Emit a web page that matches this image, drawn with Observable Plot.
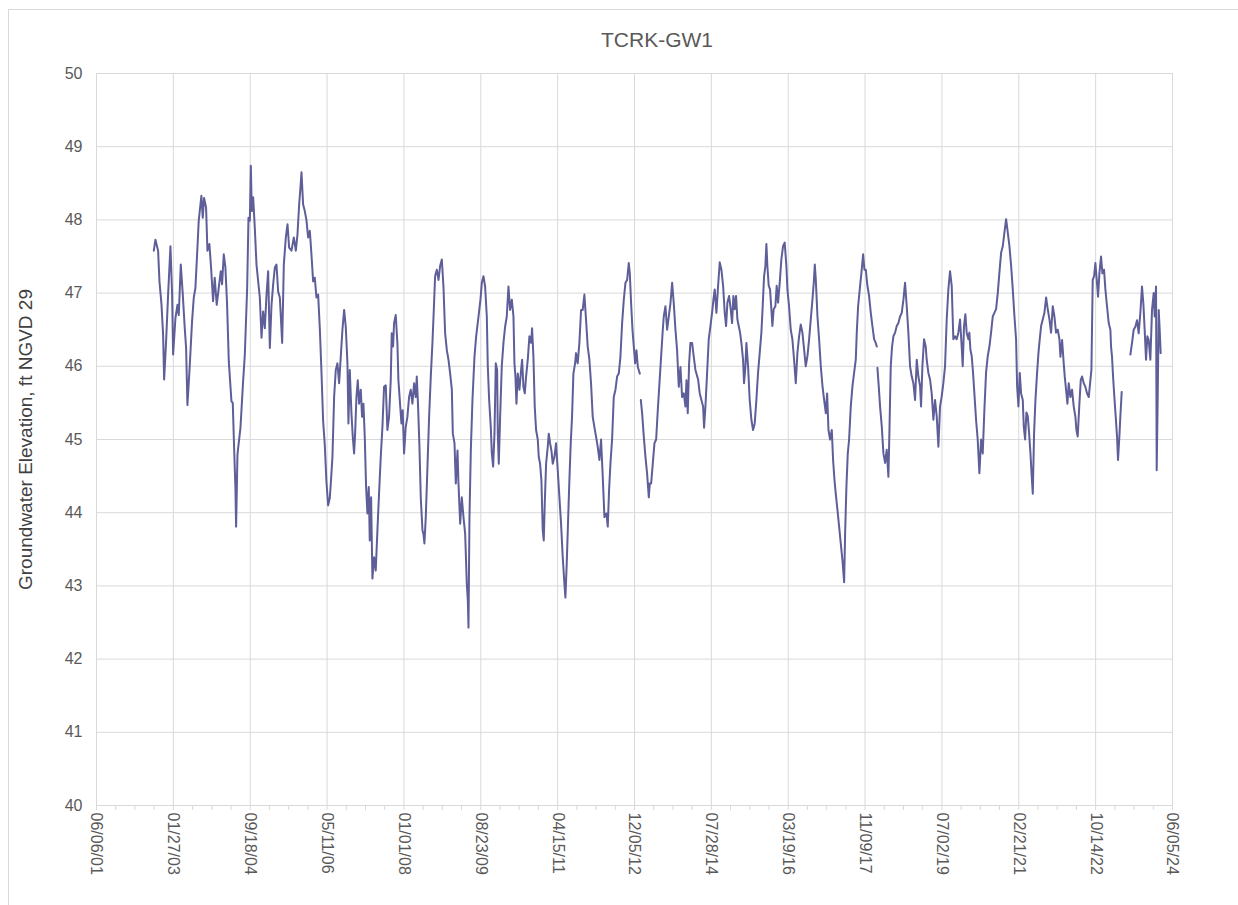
<!DOCTYPE html>
<html><head><meta charset="utf-8">
<script src="https://cdn.jsdelivr.net/npm/d3@7"></script>
<script src="https://cdn.jsdelivr.net/npm/@observablehq/plot@0.6"></script>
<style>
body{margin:0;background:#fff;width:1238px;height:905px;overflow:hidden;position:relative;font-family:"Liberation Sans",Arial,sans-serif}
#frame{position:absolute;left:8px;top:9px;width:1300px;height:1000px;border-left:1px solid #d9d9d9;border-top:1px solid #d9d9d9}
#title{position:absolute;left:557px;width:200px;top:28px;line-height:24px;text-align:center;font-size:21px;color:#595959}
#chart{position:absolute;left:0;top:60px}
</style></head><body>
<div id="frame"></div>
<div id="title">TCRK-GW1</div>
<div id="chart"></div>
<script>
const chartTitle = "TCRK-GW1";
const yLabel = "Groundwater Elevation, ft NGVD 29";
const xTickLabels = ["06/06/01","01/27/03","09/18/04","05/11/06","01/01/08","08/23/09","04/15/11","12/05/12","07/28/14","03/19/16","11/09/17","07/02/19","02/21/21","10/14/22","06/05/24"];
const yTicks = [40,41,42,43,44,45,46,47,48,49,50];

// decimal-year dates of the readings and the groundwater elevation (ft NGVD 29); null = gap in record
const decimalYear = [
2002.653,2002.688,2002.745,2002.774,2002.817,2002.852,2002.874,2002.916,2002.959,2003.009,
2003.045,2003.066,2003.116,2003.159,2003.187,2003.230,2003.273,2003.315,2003.344,2003.372,
2003.415,2003.472,2003.508,2003.543,2003.579,2003.614,2003.671,2003.700,2003.728,2003.771,
2003.800,2003.842,2003.878,2003.921,2003.956,2003.999,2004.042,2004.085,2004.113,2004.149,
2004.184,2004.220,2004.256,2004.313,2004.341,2004.370,2004.398,2004.412,2004.441,
2004.455,2004.505,2004.562,2004.598,2004.648,2004.676,2004.705,2004.726,2004.747,2004.776,
2004.811,2004.847,2004.883,2004.918,2004.954,2004.989,2005.025,2005.061,2005.096,2005.132,
2005.168,2005.203,2005.239,2005.274,2005.310,2005.346,2005.396,2005.431,2005.474,2005.510,
2005.545,2005.595,2005.645,2005.688,2005.723,2005.759,2005.787,2005.809,2005.844,2005.880,
2005.916,2005.951,2005.987,2006.022,2006.058,2006.094,2006.129,2006.165,2006.201,2006.236,
2006.272,2006.307,2006.343,2006.379,2006.414,
2006.436,2006.471,2006.507,2006.542,2006.578,2006.614,2006.649,2006.685,2006.721,2006.756,
2006.792,2006.813,2006.842,2006.877,2006.906,2006.934,2006.956,2006.984,2007.013,2007.041,
2007.077,2007.105,2007.134,2007.162,2007.191,2007.219,2007.248,2007.269,2007.298,2007.326,
2007.362,2007.397,2007.433,2007.468,2007.504,2007.540,2007.575,2007.611,2007.647,2007.682,
2007.718,2007.739,2007.768,2007.789,2007.825,2007.860,2007.882,2007.917,2007.946,2007.974,
2008.003,2008.038,2008.074,2008.110,2008.145,2008.181,2008.217,2008.252,2008.274,2008.302,
2008.331,2008.359,2008.395,
2008.416,2008.437,2008.466,2008.502,2008.537,2008.573,2008.608,2008.637,2008.665,2008.701,
2008.737,2008.772,2008.808,2008.843,2008.879,2008.915,2008.950,2008.986,2009.022,2009.043,
2009.079,2009.107,2009.143,2009.164,2009.200,2009.235,2009.271,2009.307,2009.342,2009.364,
2009.378,2009.399,2009.428,2009.463,2009.506,2009.542,2009.592,2009.634,2009.663,2009.698,
2009.734,2009.770,2009.791,2009.820,2009.855,2009.877,2009.905,2009.934,2009.962,2009.991,
2010.005,2010.026,2010.055,2010.090,2010.126,2010.161,2010.197,2010.233,2010.268,2010.305,
2010.340,
2010.361,2010.382,2010.404,2010.432,2010.468,2010.503,2010.525,2010.553,2010.582,2010.610,
2010.646,2010.681,2010.717,2010.738,2010.767,2010.795,2010.824,2010.860,2010.881,2010.909,
2010.938,2010.966,2010.988,2011.009,2011.038,2011.073,2011.095,2011.123,2011.152,2011.180,
2011.216,2011.251,2011.287,2011.323,2011.358,2011.394,2011.430,2011.451,2011.479,2011.508,
2011.536,2011.565,2011.593,2011.622,2011.658,2011.679,2011.714,2011.750,2011.786,2011.821,
2011.857,2011.893,2011.928,2011.964,2011.999,2012.035,2012.071,2012.106,2012.142,2012.178,
2012.213,2012.249,2012.285,
2012.327,2012.356,2012.384,2012.413,2012.448,2012.484,2012.520,2012.555,2012.591,2012.626,
2012.662,2012.698,2012.733,2012.769,2012.804,2012.826,2012.854,2012.883,2012.911,2012.940,
2012.968,2012.997,2013.040,2013.050,2013.061,2013.089,2013.125,2013.161,2013.196,2013.232,
2013.253,2013.282,2013.317,2013.353,2013.389,2013.424,2013.460,2013.495,2013.531,2013.552,
2013.588,2013.624,2013.659,2013.695,2013.731,2013.766,2013.802,2013.837,2013.873,2013.909,
2013.944,2013.980,2014.016,2014.037,2014.065,2014.094,2014.122,2014.158,2014.194,2014.229,
2014.286,2014.322,2014.357,2014.393,2014.414,2014.443,2014.479,2014.514,2014.550,2014.585,
2014.614,2014.642,2014.678,2014.714,2014.749,2014.785,2014.821,2014.856,2014.885,2014.913,
2014.949,2014.984,2015.013,2015.041,2015.070,2015.098,2015.127,2015.155,2015.184,2015.212,
2015.248,2015.269,2015.298,2015.319,2015.355,2015.390,2015.426,2015.462,2015.497,2015.533,
2015.568,2015.604,2015.640,2015.668,2015.697,2015.725,2015.747,2015.768,2015.797,2015.825,
2015.853,2015.875,2015.903,2015.939,2015.967,2015.996,2016.032,2016.067,2016.103,2016.138,
2016.174,
2016.196,2016.231,2016.267,2016.302,2016.338,2016.374,2016.409,2016.445,2016.480,2016.516,
2016.552,2016.587,2016.623,2016.659,2016.694,2016.730,2016.758,2016.780,2016.801,2016.837,
2016.872,2016.908,2016.944,2016.979,2017.015,2017.043,2017.072,2017.107,2017.143,2017.171,
2017.200,2017.228,2017.264,2017.300,2017.335,2017.371,2017.407,2017.428,2017.456,2017.485,
2017.513,2017.549,2017.585,2017.620,2017.656,2017.677,2017.706,2017.741,2017.777,2017.813,
2017.841,2017.870,2017.905,2017.941,2017.977,2018.012,2018.048,2018.083,2018.105,2018.112,
2018.119,2018.147,2018.176,2018.212,2018.247,2018.283,2018.318,2018.354,2018.375,2018.404,
2018.432,2018.461,2018.497,2018.532,2018.568,2018.603,2018.639,2018.675,2018.710,2018.746,
2018.781,2018.817,2018.853,2018.888,2018.924,2018.960,2018.995,2019.031,2019.052,2019.081,
2019.116,2019.152,2019.173,2019.209,2019.244,2019.280,2019.316,2019.351,2019.387,2019.423,
2019.458,2019.494,2019.529,2019.565,2019.601,2019.636,2019.672,2019.708,2019.743,2019.779,
2019.814,2019.850,2019.886,2019.921,2019.943,2019.971,2020.000,2020.028,2020.064,
2020.085,2020.107,2020.135,2020.164,2020.192,2020.228,2020.263,2020.299,2020.335,2020.370,
2020.406,2020.441,2020.477,2020.513,2020.548,2020.584,2020.619,2020.655,2020.691,2020.726,
2020.762,2020.798,2020.833,2020.869,2020.904,2020.940,2020.976,2021.011,2021.047,2021.082,
2021.104,2021.132,2021.161,2021.189,2021.225,2021.246,2021.275,2021.303,2021.332,2021.360,
2021.389,2021.417,2021.439,2021.467,2021.496,2021.531,2021.560,2021.588,2021.617,2021.652,
2021.688,2021.724,2021.759,2021.795,2021.830,2021.866,2021.902,2021.937,2021.973,2022.009,
2022.030,2022.066,2022.101,2022.123,2022.151,2022.180,2022.208,2022.244,2022.279,2022.315,
2022.351,2022.372,2022.400,2022.436,2022.465,2022.493,2022.529,2022.564,2022.600,2022.636,
2022.671,2022.693,2022.721,2022.750,2022.778,2022.807,2022.835,2022.864,2022.899,2022.928,
2022.963,2022.992,2023.027,2023.063,2023.099,2023.113,2023.134,2023.156,2023.184,2023.213,
2023.241,2023.262,2023.291,2023.312,2023.341,2023.430,
2023.526,2023.562,2023.597,2023.633,2023.669,2023.704,2023.740,2023.775,2023.804,2023.832,
2023.861,2023.889,2023.918,2023.954,2023.989,2024.025,2024.046,2024.075,2024.089,2024.110,
2024.132,2024.153,2024.174
];
const elevation = [
47.58,47.73,47.58,47.16,46.85,46.43,45.82,46.34,46.98,47.64,
46.98,46.16,46.66,46.84,46.70,47.39,46.98,46.52,46.25,45.47,
45.93,46.62,46.94,47.07,47.53,47.99,48.33,48.03,48.30,48.17,
47.58,47.67,47.35,46.89,47.21,46.84,47.07,47.30,47.12,47.53,
47.35,46.84,46.07,45.52,45.50,44.88,44.33,43.81,44.79,
44.88,45.16,45.80,46.16,47.07,48.03,47.99,48.74,48.12,48.31,
47.89,47.39,47.16,46.94,46.39,46.75,46.52,46.98,47.30,46.25,
46.84,47.12,47.35,47.39,47.02,46.94,46.32,47.39,47.76,47.94,
47.62,47.58,47.76,47.58,47.80,48.21,48.44,48.65,48.21,48.12,
47.99,47.76,47.85,47.53,47.16,47.21,46.94,46.98,46.52,45.93,
45.25,44.93,44.42,44.10,44.20,
44.40,44.76,45.58,45.95,46.04,45.77,46.13,46.50,46.77,46.54,
46.04,45.22,45.95,45.36,45.04,44.81,45.08,45.58,45.81,45.49,
45.68,45.31,45.49,45.04,44.35,43.99,44.35,43.62,44.21,43.10,
43.39,43.21,43.76,44.26,44.76,45.17,45.72,45.74,45.13,45.31,
45.81,46.45,46.27,46.59,46.70,46.32,45.81,45.49,45.22,45.40,
44.81,45.17,45.31,45.58,45.68,45.49,45.77,45.58,45.86,45.45,
44.90,44.21,43.76,
43.71,43.58,43.94,44.63,45.31,45.86,46.32,46.77,47.23,47.32,
47.18,47.37,47.46,47.09,46.45,46.22,46.09,45.90,45.68,45.08,
44.95,44.40,44.85,44.40,43.85,44.21,43.94,43.71,43.03,42.80,
42.43,43.94,44.85,45.54,46.13,46.41,46.68,46.91,47.14,47.23,
47.09,46.68,46.00,45.54,45.17,44.81,44.63,45.08,46.04,45.95,
45.08,44.67,45.31,46.00,46.32,46.54,46.68,47.09,46.77,46.91,
46.68,
46.04,45.86,45.49,45.90,45.68,45.95,46.09,45.72,45.63,45.86,
46.09,46.41,46.32,46.52,46.13,45.45,45.13,45.00,44.76,44.67,
44.44,43.76,43.62,44.12,44.67,44.90,45.08,44.95,44.85,44.67,
44.76,44.95,44.58,44.21,43.85,43.39,43.03,42.84,43.30,43.89,
44.44,44.95,45.31,45.90,46.04,46.18,46.04,46.32,46.77,46.77,
46.98,46.63,46.27,46.09,45.77,45.31,45.17,45.04,44.90,44.72,
45.00,44.49,43.94,
43.99,43.81,44.31,44.67,45.00,45.58,45.68,45.86,45.90,46.13,
46.59,46.91,47.14,47.18,47.41,47.27,46.86,46.50,46.27,46.04,
46.22,45.99,45.90,null,45.54,45.36,45.04,44.76,44.53,44.21,
44.40,44.40,44.67,44.95,45.00,45.40,45.77,46.13,46.50,46.68,
46.82,46.50,46.68,46.86,47.14,46.86,46.50,46.22,45.72,45.99,
45.58,45.63,45.45,45.81,45.36,46.04,46.32,46.32,46.13,45.95,
45.82,45.63,45.54,45.45,45.16,45.45,45.91,46.37,46.55,46.73,
46.91,47.05,46.73,47.10,47.42,47.32,47.10,46.73,46.55,46.87,
46.96,46.78,46.59,46.96,46.78,46.96,46.64,46.55,46.46,46.32,
46.09,45.77,46.00,46.32,46.00,45.54,45.27,45.13,45.22,45.54,
45.91,46.18,46.46,46.82,47.23,47.37,47.67,47.37,47.10,47.05,
46.78,46.55,46.78,46.82,47.10,46.87,47.14,47.46,47.64,47.69,
47.37,
47.05,46.82,46.50,46.37,46.09,45.77,46.18,46.41,46.57,46.46,
46.23,46.00,46.14,46.37,46.64,46.91,47.14,47.39,47.19,46.68,
46.37,46.00,45.73,45.54,45.36,45.63,45.13,45.00,45.13,44.72,
44.45,44.26,44.04,43.81,43.58,43.35,43.05,43.72,44.36,44.81,
45.00,45.45,45.73,45.91,46.09,46.46,46.82,47.05,47.28,47.53,
47.32,47.32,47.10,46.96,46.73,46.55,46.37,46.32,46.27,null,
45.98,45.73,45.45,45.18,44.81,44.68,44.86,44.49,45.09,46.00,
46.27,46.41,46.46,46.55,46.59,46.68,46.73,46.91,47.14,46.82,
46.46,46.00,45.86,45.77,45.54,46.09,45.86,45.73,45.45,46.00,
46.37,46.27,46.09,45.91,45.82,45.63,45.27,45.54,45.32,44.90,
45.45,45.59,45.77,46.00,46.64,47.05,47.30,47.10,46.37,46.41,
46.37,46.46,46.64,46.27,46.00,46.55,46.71,46.46,46.37,
46.46,46.23,46.14,45.91,45.63,45.27,45.00,44.54,45.00,44.81,
45.41,45.91,46.14,46.27,46.46,46.68,46.73,46.78,47.00,47.28,
47.55,47.64,47.83,48.01,47.83,47.64,47.37,47.05,46.68,46.37,
45.73,45.45,45.91,45.63,45.54,45.18,45.00,45.37,45.32,45.09,
44.81,44.49,44.26,45.09,45.54,45.91,46.18,46.37,46.55,46.64,
46.73,46.94,46.78,46.64,46.46,46.82,46.68,46.46,46.50,46.37,
46.13,46.36,46.04,45.86,45.68,45.49,45.77,45.58,45.68,45.45,
45.31,45.13,45.04,45.49,45.81,45.86,45.77,45.72,45.63,45.58,
45.81,45.95,47.18,47.23,47.41,47.18,46.95,47.27,47.50,47.27,
47.32,47.05,46.82,46.59,46.50,46.27,46.13,45.86,45.58,45.31,
45.04,44.72,45.04,45.31,45.65,null,
46.16,46.32,46.50,46.54,46.63,46.45,46.73,47.09,46.86,46.50,
46.09,46.41,46.36,46.09,46.77,47.00,46.68,47.09,44.58,45.54,
46.77,46.50,46.18
];

function parseMDY(s){const [m,d,y]=s.split("/").map(Number);return new Date(Date.UTC(2000+y,m-1,d));}
function fromDecimalYear(v){const yr=Math.floor(v);const a=Date.UTC(yr,0,1),b=Date.UTC(yr+1,0,1);return new Date(a+(v-yr)*(b-a));}

const majorTicks = xTickLabels.map(parseMDY);
const minorTicks = [];
majorTicks.slice(0,-1).forEach(t=>{for(let k=1;k<4;k++) minorTicks.push(d3.utcDay.offset(t,150*k));});
const allTicks = majorTicks.concat(minorTicks);
const labelOf = new Map(majorTicks.map((t,i)=>[+t,xTickLabels[i]]));

const data = decimalYear.map((y,i)=>({date:fromDecimalYear(y), elev:elevation[i]}));

const grid = "#d9d9d9";
const chart = Plot.plot({
  width:1238, height:845,
  marginLeft:96, marginRight:66, marginTop:13, marginBottom:100,
  style:{fontFamily:"'Liberation Sans', Arial, sans-serif", fontSize:"16px", color:"#595959", background:"transparent"},
  x:{type:"utc", domain:[majorTicks[0], majorTicks[majorTicks.length-1]], label:null},
  y:{domain:[40,50], label:null},
  marks:[
    Plot.gridY(yTicks,{stroke:grid, strokeOpacity:1}),
    Plot.gridX(majorTicks,{stroke:grid, strokeOpacity:1}),
    Plot.axisX(allTicks,{tickSize:5, stroke:grid, text:null, label:null}),
    Plot.axisX(majorTicks,{tickSize:0, tickPadding:7, tickRotate:90, tickFormat:d=>labelOf.get(+d), fill:"#595959", fontSize:16, label:null}),
    Plot.axisY(yTicks,{tickSize:0, tickPadding:14, tickFormat:d=>String(d), fill:"#595959", fontSize:16, label:null}),
    Plot.ruleY([40],{stroke:grid}),
    Plot.text([yLabel],{text:d=>d, frameAnchor:"left", textAnchor:"middle", rotate:-90, dx:-71, fontSize:19, fill:"#404040"}),
    Plot.line(data,{x:"date", y:"elev", stroke:"#5e5e99", strokeWidth:2})
  ]
});
document.getElementById("chart").appendChild(chart);
document.getElementById("title").textContent = chartTitle;
</script>
</body></html>
